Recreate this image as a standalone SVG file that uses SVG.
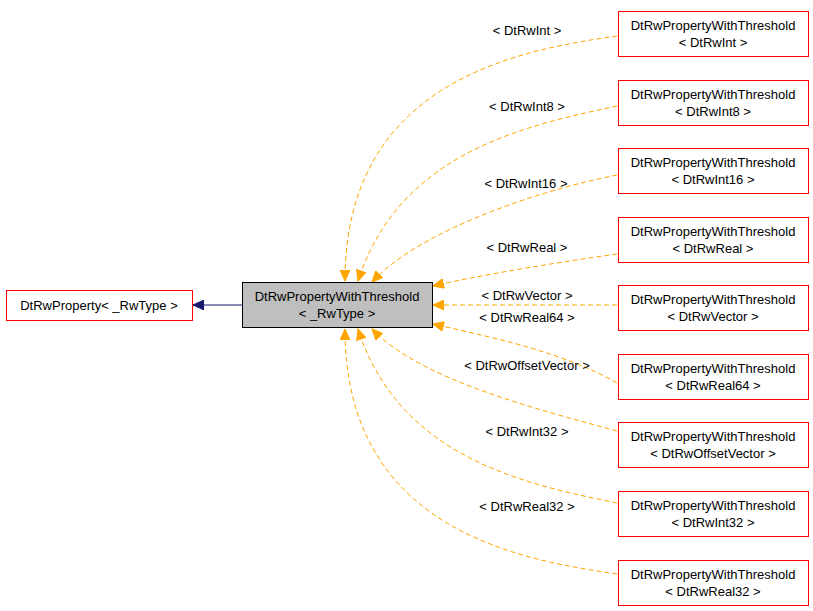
<svg xmlns="http://www.w3.org/2000/svg" width="813" height="611" viewBox="0 0 813 611">
<style>
text{font-family:"Liberation Sans",Arial,sans-serif;font-size:13px;fill:#000;text-anchor:middle}
.n{fill:#fff;stroke:#ff0000;stroke-width:1}
.e{fill:none;stroke:#ffa500;stroke-width:1;stroke-dasharray:5,3}
</style>
<defs>
<marker id="o" markerWidth="12" markerHeight="10" refX="11" refY="5" orient="auto" markerUnits="userSpaceOnUse"><path d="M0,0 L11,5 L0,10 Z" fill="#ffa500" stroke="#ffa500"/></marker>
<marker id="b" markerWidth="12" markerHeight="10" refX="11" refY="5" orient="auto" markerUnits="userSpaceOnUse"><path d="M0,0 L11,5 L0,10 Z" fill="#191970" stroke="#191970"/></marker>
</defs>
<rect width="813" height="611" fill="#fff"/>
<g id="connectors">
<path d="M242,305 L193,305" fill="none" stroke="#191970" marker-end="url(#b)"/>
<path class="e" d="M617,36 C520,50 345,80 345,281" marker-end="url(#o)"/>
<path class="e" d="M617,106 C530,125 400,150 358,281" marker-end="url(#o)"/>
<path class="e" d="M617,175 C540,190 420,230 372,282" marker-end="url(#o)"/>
<path class="e" d="M617,254 C560,262 480,275 433,286" marker-end="url(#o)"/>
<path class="e" d="M617,305 L433,305" marker-end="url(#o)"/>
<path class="e" d="M617,383 C560,350 480,335 433,324" marker-end="url(#o)"/>
<path class="e" d="M617,431 C540,410 420,380 372,329" marker-end="url(#o)"/>
<path class="e" d="M617,503 C530,485 400,460 358,329" marker-end="url(#o)"/>
<path class="e" d="M617,574 C520,560 345,530 345,329" marker-end="url(#o)"/>
</g>
<g id="labels">
<text x="527" y="35">&lt; DtRwInt &gt;</text>
<text x="527" y="111">&lt; DtRwInt8 &gt;</text>
<text x="526" y="188">&lt; DtRwInt16 &gt;</text>
<text x="527" y="252">&lt; DtRwReal &gt;</text>
<text x="527" y="300">&lt; DtRwVector &gt;</text>
<text x="527" y="322">&lt; DtRwReal64 &gt;</text>
<text x="527" y="370">&lt; DtRwOffsetVector &gt;</text>
<text x="527" y="436">&lt; DtRwInt32 &gt;</text>
<text x="527" y="511">&lt; DtRwReal32 &gt;</text>
</g>
<g id="base"><rect class="n" x="6.5" y="290.5" width="186" height="30"/><text x="99" y="310">DtRwProperty&lt; _RwType &gt;</text></g>
<g id="center"><rect x="242.5" y="282.5" width="190" height="45" fill="#bfbfbf" stroke="#000"/><text x="337" y="301">DtRwPropertyWithThreshold</text><text x="337" y="318">&lt; _RwType &gt;</text></g>
<g id="n1"><rect class="n" x="618.5" y="11.5" width="190" height="45"/><text x="713" y="30">DtRwPropertyWithThreshold</text><text x="713" y="47">&lt; DtRwInt &gt;</text></g>
<g id="n2"><rect class="n" x="618.5" y="80.5" width="190" height="45"/><text x="713" y="99">DtRwPropertyWithThreshold</text><text x="713" y="116">&lt; DtRwInt8 &gt;</text></g>
<g id="n3"><rect class="n" x="618.5" y="148.5" width="190" height="45"/><text x="713" y="167">DtRwPropertyWithThreshold</text><text x="713" y="184">&lt; DtRwInt16 &gt;</text></g>
<g id="n4"><rect class="n" x="618.5" y="217.5" width="190" height="45"/><text x="713" y="236">DtRwPropertyWithThreshold</text><text x="713" y="253">&lt; DtRwReal &gt;</text></g>
<g id="n5"><rect class="n" x="618.5" y="285.5" width="190" height="45"/><text x="713" y="304">DtRwPropertyWithThreshold</text><text x="713" y="321">&lt; DtRwVector &gt;</text></g>
<g id="n6"><rect class="n" x="618.5" y="354.5" width="190" height="45"/><text x="713" y="373">DtRwPropertyWithThreshold</text><text x="713" y="390">&lt; DtRwReal64 &gt;</text></g>
<g id="n7"><rect class="n" x="618.5" y="422.5" width="190" height="45"/><text x="713" y="441">DtRwPropertyWithThreshold</text><text x="713" y="458">&lt; DtRwOffsetVector &gt;</text></g>
<g id="n8"><rect class="n" x="618.5" y="491.5" width="190" height="45"/><text x="713" y="510">DtRwPropertyWithThreshold</text><text x="713" y="527">&lt; DtRwInt32 &gt;</text></g>
<g id="n9"><rect class="n" x="618.5" y="560.5" width="190" height="45"/><text x="713" y="579">DtRwPropertyWithThreshold</text><text x="713" y="596">&lt; DtRwReal32 &gt;</text></g>
</svg>
